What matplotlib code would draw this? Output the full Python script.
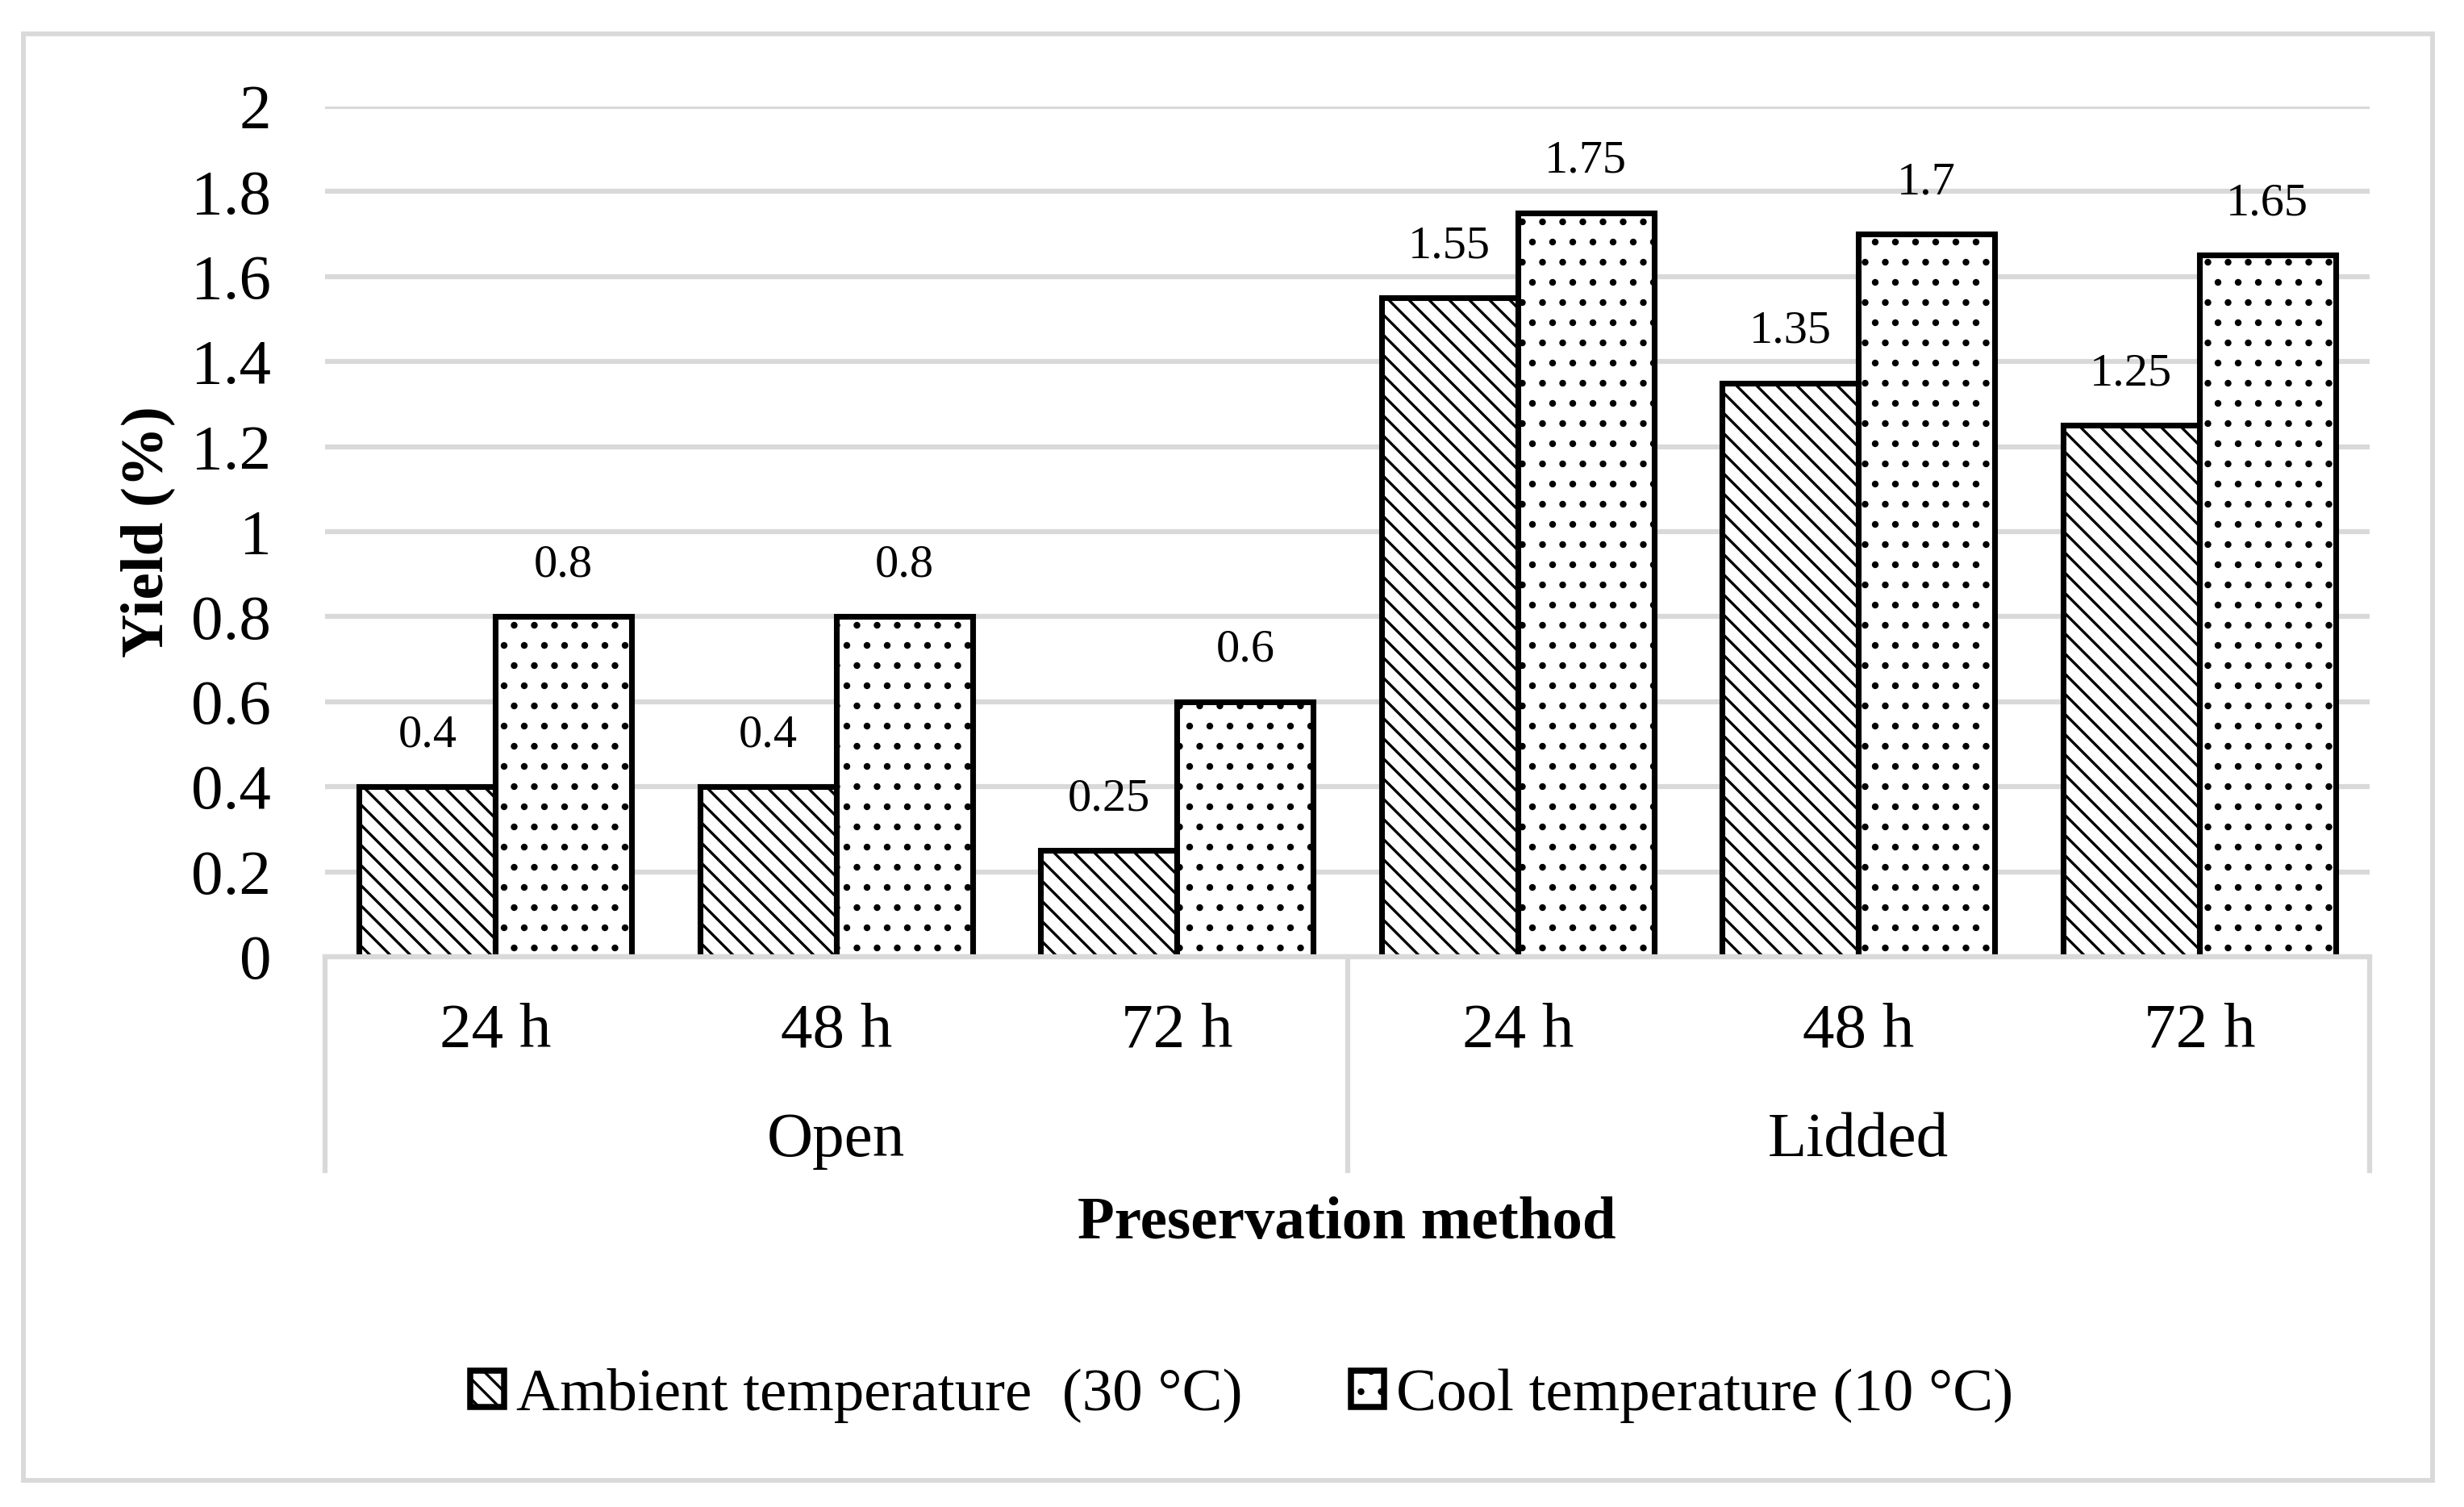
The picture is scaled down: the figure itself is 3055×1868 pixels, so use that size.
import numpy as np
import matplotlib.pyplot as plt
from matplotlib.patches import Patch, Rectangle
from matplotlib.lines import Line2D

# data
hours = ['24 h', '48 h', '72 h', '24 h', '48 h', '72 h']
methods = ['Open', 'Lidded']
ambient = [0.4, 0.4, 0.25, 1.55, 1.35, 1.25]
cool = [0.8, 0.8, 0.6, 1.75, 1.7, 1.65]
ambient_labels = ['0.4', '0.4', '0.25', '1.55', '1.35', '1.25']
cool_labels = ['0.8', '0.8', '0.6', '1.75', '1.7', '1.65']
yticks = [0, 0.2, 0.4, 0.6, 0.8, 1, 1.2, 1.4, 1.6, 1.8, 2]
ytick_labels = ['0', '0.2', '0.4', '0.6', '0.8', '1', '1.2', '1.4', '1.6', '1.8', '2']
series_names = ['Ambient temperature  (30 °C)', 'Cool temperature (10 °C)']

plt.rcParams['font.family'] = ['Liberation Serif', 'DejaVu Serif']
plt.rcParams['hatch.linewidth'] = 0.8
plt.rcParams['hatch.color'] = 'black'

W, H, DPI = 3055, 1868, 300
fig = plt.figure(figsize=(W / DPI, H / DPI), dpi=DPI)
ax = fig.add_axes([403 / W, 1 - 1186 / H, (2938 - 403) / W, (1186 - 132) / H])

grey = '#d9d9d9'
x = np.arange(len(hours))
w = 0.4

b1 = ax.bar(x - w / 2, ambient, w, facecolor='white', edgecolor='black',
            linewidth=1.7, hatch='\\\\\\\\', zorder=3)
b2 = ax.bar(x + w / 2, cool, w, facecolor='white', edgecolor='black',
            linewidth=1.7, hatch='..', zorder=3)

for bars, labs in [(b1, ambient_labels), (b2, cool_labels)]:
    for rect, lab in zip(bars, labs):
        ax.annotate(lab, (rect.get_x() + rect.get_width() / 2, rect.get_height()),
                    xytext=(0, 12), textcoords='offset points',
                    ha='center', va='baseline', fontsize=14)

ax.set_xlim(-0.5, len(hours) - 0.5)
ax.set_ylim(0, 2)
ax.set_yticks(yticks)
ax.set_yticklabels(ytick_labels, fontsize=19)
ax.tick_params(axis='y', length=0, pad=16)
ax.set_xticks([])
ax.yaxis.grid(True, color=grey, linewidth=1.5)
ax.set_axisbelow(True)
for s in ax.spines.values():
    s.set_visible(False)

# multi-level category axis
tr = ax.get_xaxis_transform()
ax.add_line(Line2D([-0.5, len(hours) - 0.5], [0, 0], transform=tr, color=grey,
                   linewidth=1.5, clip_on=False, zorder=4))
for xv in [-0.5, 2.5, 5.5]:
    ax.add_line(Line2D([xv, xv], [0, -0.2514], transform=tr, color=grey,
                       linewidth=1.5, clip_on=False, zorder=4))
for xi, lab in zip(x, hours):
    ax.text(xi, -(1298 - 1186) / 1054, lab, transform=tr, ha='center',
            va='baseline', fontsize=19)
for i, lab in enumerate(methods):
    ax.text(3 * i + 1, -(1433 - 1186) / 1054, lab, transform=tr, ha='center',
            va='baseline', fontsize=19)

fig.text(1670 / W, 1 - 1535 / H, 'Preservation method', ha='center',
         va='baseline', fontsize=18, fontweight='bold')
fig.text(183 / W, 1 - 659 / H, 'Yield (%)', ha='center', va='center',
         rotation=90, fontsize=18, fontweight='bold')

handles = [Patch(facecolor='white', edgecolor='black', linewidth=1.8, hatch='\\\\\\\\'),
           Patch(facecolor='white', edgecolor='black', linewidth=1.8, hatch='..')]
fig.legend(handles, series_names, loc='center', bbox_to_anchor=(1540 / W, 1 - 1730 / H),
           ncol=2, frameon=False, fontsize=18, handlelength=0.55, handleheight=0.55,
           handletextpad=0.2, columnspacing=1.8)

# outer border
fig.patches.append(Rectangle((29 / W, 1 - 1835 / H), (3016 - 29) / W, (1835 - 42) / H,
                             transform=fig.transFigure, fill=False, edgecolor=grey,
                             linewidth=1.4))

fig.savefig('out.png', dpi=DPI)
